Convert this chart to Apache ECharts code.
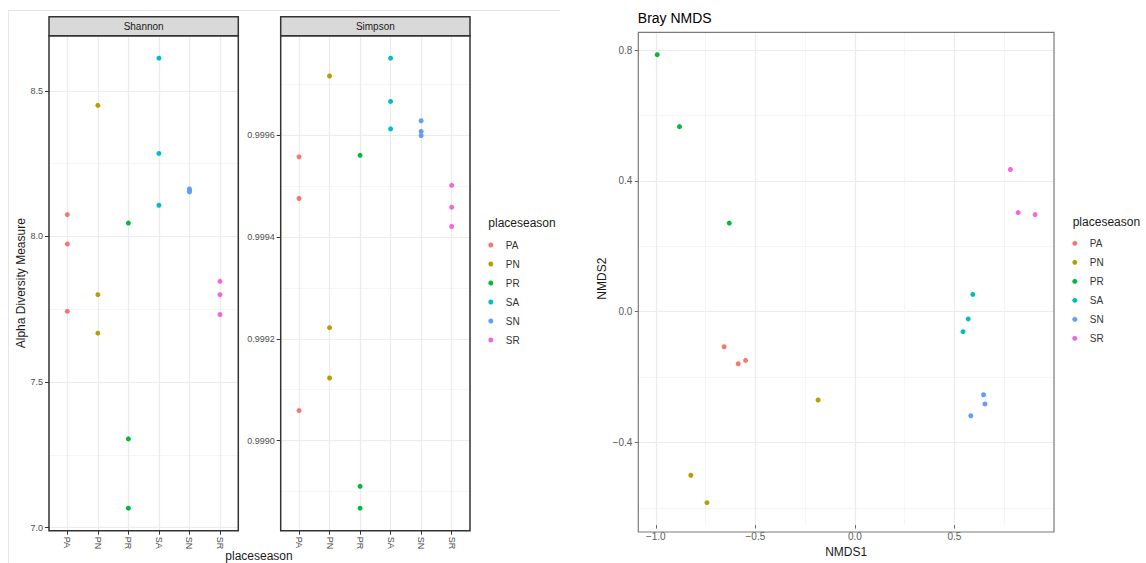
<!DOCTYPE html>
<html>
<head>
<meta charset="utf-8">
<script src="https://cdn.jsdelivr.net/npm/echarts@6/dist/echarts.min.js"></script>
<style>
  html, body { margin: 0; padding: 0; background: #fff; }
  #chart { width: 1146px; height: 563px; }
</style>
</head>
<body>
<div id="chart"></div>
<script>
// ---- data ----
const categories = ['PA', 'PN', 'PR', 'SA', 'SN', 'SR'];
const colors = ['#F8766D', '#B79F00', '#00BA38', '#00BFC4', '#619CFF', '#F564E3'];

const shannon = [
  [8.075, 7.974, 7.743],
  [8.450, 7.800, 7.668],
  [8.046, 7.305, 7.067],
  [8.612, 8.285, 8.107],
  [8.163, 8.158, 8.153],
  [7.846, 7.800, 7.732]
];
const simpson = [
  [0.999558, 0.999476, 0.999059],
  [0.999717, 0.999222, 0.999123],
  [0.999561, 0.998910, 0.998867],
  [0.999752, 0.999667, 0.999613],
  [0.999629, 0.999608, 0.999600],
  [0.999502, 0.999459, 0.999421]
];
const nmds1 = [
  [-0.657, -0.586, -0.549],
  [-0.185, -0.824, -0.743],
  [-0.993, -0.881, -0.631],
  [0.592, 0.569, 0.543],
  [0.646, 0.653, 0.582],
  [0.781, 0.820, 0.905]
];
const nmds2 = [
  [-0.107, -0.159, -0.149],
  [-0.270, -0.500, -0.584],
  [0.786, 0.566, 0.271],
  [0.053, -0.022, -0.061],
  [-0.254, -0.282, -0.318],
  [0.435, 0.303, 0.297]
];

const shannonTicks = [7.0, 7.5, 8.0, 8.5];
const shannonMinor = [7.25, 7.75, 8.25];
const simpsonTicks = [0.9990, 0.9992, 0.9994, 0.9996];
const simpsonMinor = [0.9989, 0.9991, 0.9993, 0.9995, 0.9997];
const nmds1Ticks = [-1.0, -0.5, 0.0, 0.5];
const nmds1Minor = [-0.75, -0.25, 0.25, 0.75];
const nmds2Ticks = [-0.4, 0.0, 0.4, 0.8];
const nmds2Minor = [-0.6, -0.2, 0.2, 0.6];

// ---- helpers ----
function expandRange(groups) {           // ggplot-style 5% continuous expansion
  const all = [].concat(...groups);
  const mn = Math.min(...all), mx = Math.max(...all);
  const pad = (mx - mn) * 0.05;
  return [mn - pad, mx + pad];
}
const fmtSigned = (d) => (v) => (v < 0 ? '\u2212' : '') + Math.abs(v).toFixed(d);

const shR = expandRange(shannon);
const siR = expandRange(simpson);
const n1R = expandRange(nmds1);
const n2R = expandRange(nmds2);
const catIdx = categories.map((c, i) => i);

const MAJOR = '#EBEBEB', MINORC = '#F3F3F3';
const FONT = 'Liberation Sans, Arial, sans-serif';
const leftLabel = { fontSize: 9, color: '#4D4D4D', fontFamily: FONT };
const rightLabel = { fontSize: 10, color: '#5A5A5A', fontFamily: FONT };

const grids = [
  { left: 49, top: 35.7, width: 189.3, height: 495 },
  { left: 280.7, top: 35.7, width: 189.3, height: 495 },
  { left: 638.3, top: 32.3, width: 415.7, height: 499.7 }
];

function catXAxis(gridIndex) {
  return {
    type: 'value', gridIndex, min: -0.6, max: categories.length - 0.4,
    axisLine: { show: false, onZero: false },
    axisTick: { show: true, length: 4, customValues: catIdx, lineStyle: { color: '#333', width: 1 } },
    axisLabel: {
      customValues: catIdx, rotate: -90, margin: 6, ...leftLabel,
      formatter: (v) => categories[Math.round(v)]
    },
    splitLine: { show: true, lineStyle: { color: MAJOR, width: 1.2 } }
  };
}
function valAxis(gridIndex, range, ticks, fmt, label, tickColor, tickLen, extra) {
  return Object.assign({
    type: 'value', gridIndex, min: range[0], max: range[1],
    axisLine: { show: false, onZero: false },
    axisTick: { show: true, length: tickLen, customValues: ticks, lineStyle: { color: tickColor, width: 1 } },
    axisLabel: { customValues: ticks, margin: 6, formatter: fmt, ...label },
    splitLine: { show: true, lineStyle: { color: MAJOR, width: 1.2 } }
  }, extra || {});
}
function minorAxis(gridIndex, range, ticks, extra) {
  return Object.assign({
    type: 'value', gridIndex, min: range[0], max: range[1],
    axisLine: { show: false, onZero: false },
    axisTick: { show: false, customValues: ticks },
    axisLabel: { show: false, customValues: ticks },
    splitLine: { show: true, lineStyle: { color: MINORC, width: 0.8 } }
  }, extra || {});
}

const xAxis = [
  catXAxis(0),
  catXAxis(1),
  valAxis(2, n1R, nmds1Ticks, fmtSigned(1), rightLabel, '#666', 3.5, {
    name: 'NMDS1', nameLocation: 'middle', nameGap: 17,
    nameTextStyle: { fontSize: 12, color: '#1a1a1a', fontFamily: FONT }
  }),
  minorAxis(2, n1R, nmds1Minor)
];
const yAxis = [
  valAxis(0, shR, shannonTicks, (v) => v.toFixed(1), leftLabel, '#333', 4, {
    name: 'Alpha Diversity Measure', nameLocation: 'middle', nameGap: 22,
    nameTextStyle: { fontSize: 12, color: '#1a1a1a', fontFamily: FONT }
  }),
  minorAxis(0, shR, shannonMinor),
  valAxis(1, siR, simpsonTicks, (v) => v.toFixed(4), leftLabel, '#333', 4),
  minorAxis(1, siR, simpsonMinor),
  valAxis(2, n2R, nmds2Ticks, fmtSigned(1), rightLabel, '#666', 3.5, {
    name: 'NMDS2', nameLocation: 'middle', nameGap: 30,
    nameTextStyle: { fontSize: 12, color: '#1a1a1a', fontFamily: FONT }
  }),
  minorAxis(2, n2R, nmds2Minor)
];

const series = [];
categories.forEach((cat, i) => {
  const common = {
    type: 'scatter', name: cat, symbol: 'circle', symbolSize: 5,
    itemStyle: { color: colors[i], opacity: 1 }, silent: true, z: 5,
    emphasis: { disabled: true }
  };
  series.push(Object.assign({}, common, {
    xAxisIndex: 0, yAxisIndex: 0, data: shannon[i].map((v) => [i, v])
  }));
  series.push(Object.assign({}, common, {
    xAxisIndex: 1, yAxisIndex: 2, data: simpson[i].map((v) => [i, v])
  }));
  series.push(Object.assign({}, common, {
    xAxisIndex: 2, yAxisIndex: 4, data: nmds1[i].map((x, j) => [x, nmds2[i][j]])
  }));
});

function legendAt(left, top) {
  return {
    orient: 'vertical', left, top, padding: 0,
    itemWidth: 20, itemHeight: 5, itemGap: 5, icon: 'circle',
    selectedMode: false,
    textStyle: { fontSize: 10, color: '#333', lineHeight: 14, fontFamily: FONT },
    data: categories
  };
}

function panelBorder(g, color, lw) {
  return {
    type: 'rect', z: 50, silent: true,
    shape: { x: g.left, y: g.top, width: g.width, height: g.height },
    style: { fill: 'none', stroke: color, lineWidth: lw }
  };
}
function strip(g, label) {
  return [
    {
      type: 'rect', z: 50, silent: true,
      shape: { x: g.left, y: 16.7, width: g.width, height: g.top - 16.7 },
      style: { fill: '#D9D9D9', stroke: '#333', lineWidth: 1.5 }
    },
    {
      type: 'text', z: 51, silent: true,
      style: {
        text: label, x: g.left + g.width / 2, y: (16.7 + g.top) / 2,
        align: 'center', verticalAlign: 'middle',
        font: '10px ' + FONT, fill: '#1a1a1a'
      }
    }
  ];
}
function label(text, x, y, size, align, color) {
  return {
    type: 'text', z: 51, silent: true,
    style: { text, x, y, align: align || 'left', verticalAlign: 'middle', font: size + 'px ' + FONT, fill: color || '#000' }
  };
}

const graphic = [
  { type: 'line', silent: true, shape: { x1: 8, y1: 10.5, x2: 560, y2: 10.5 }, style: { stroke: '#E6E6E6', lineWidth: 1 } },
  { type: 'line', silent: true, shape: { x1: 8.5, y1: 10, x2: 8.5, y2: 563 }, style: { stroke: '#E6E6E6', lineWidth: 1 } },
  panelBorder(grids[0], '#333', 1.5),
  panelBorder(grids[1], '#333', 1.5),
  panelBorder(grids[2], '#7A7A7A', 1.2),
  ...strip(grids[0], 'Shannon'),
  ...strip(grids[1], 'Simpson'),
  label('placeseason', 259, 555.5, 12, 'center', '#1a1a1a'),
  label('placeseason', 488.3, 223.4, 12, 'left', '#1a1a1a'),
  label('placeseason', 1072.7, 222.3, 12, 'left', '#1a1a1a'),
  label('Bray NMDS', 637.8, 18, 14, 'left', '#000')
];

const chart = echarts.init(document.getElementById('chart'), null, { renderer: 'svg' });
chart.setOption({
  animation: false,
  backgroundColor: '#fff',
  grid: grids,
  xAxis, yAxis, series,
  legend: [legendAt(488.3, 238), legendAt(1072.3, 236.3)],
  graphic
});
</script>
</body>
</html>
